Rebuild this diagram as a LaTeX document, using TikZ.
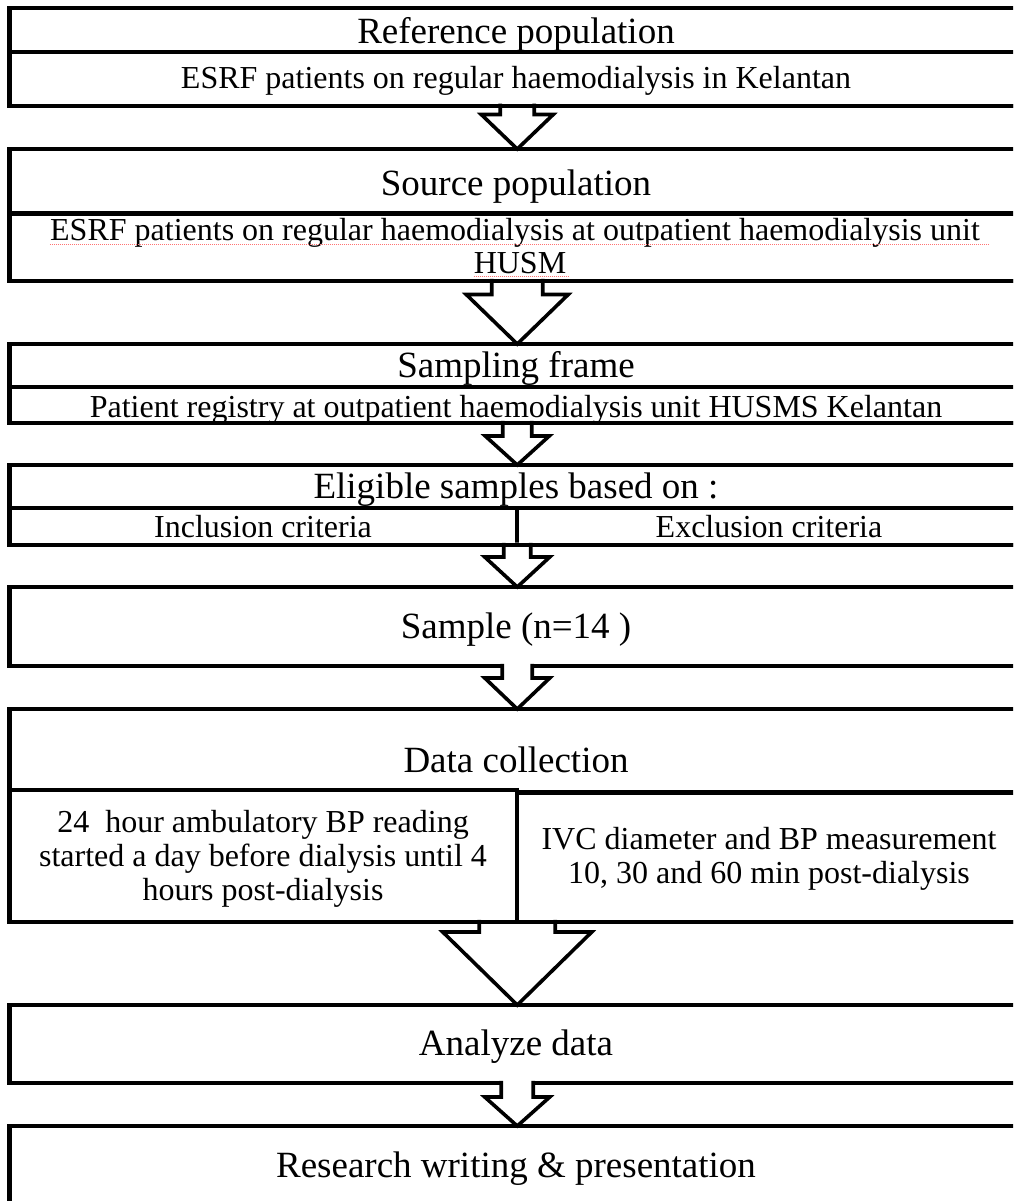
\documentclass[tikz,border=0pt]{standalone}
\usepackage{fontspec}
\setmainfont{Liberation Serif}
\usetikzlibrary{calc,fit}

\tikzset{
  box/.style={draw, line width=4.5pt, inner sep=0pt, outer sep=0pt},
  rule/.style={line width=4.5pt},
  hd/.style={inner sep=0pt, anchor=base, font=\fontsize{37}{40}\selectfont},
  sub/.style={inner sep=0pt, anchor=base, font=\fontsize{32}{35}\selectfont},
  arrowline/.style={draw, line width=3.6pt, line join=miter},
  spell/.style={draw=red!55, line width=1pt, densely dotted},
}

% Hollow block arrow hanging from the bottom of box #1 down to the top of box #2.
% #3 stem half width, #4 head half width, #5 stem length
\newcommand\blockarrow[5]{%
  \fill[white] ($(#1.south)+(-#3,-2.3)$) -- ($(#1.south)+(-#3,#5)$)
    -- ($(#1.south)+(-#4,#5)$) -- (#2.north) -- ($(#1.south)+(#4,#5)$)
    -- ($(#1.south)+(#3,#5)$) -- ($(#1.south)+(#3,-2.3)$) -- cycle;
  \draw[arrowline] ($(#1.south)+(-#3,-2.25)$) -- ($(#1.south)+(-#3,#5)$)
    -- ($(#1.south)+(-#4,#5)$) -- (#2.north) -- ($(#1.south)+(#4,#5)$)
    -- ($(#1.south)+(#3,#5)$) -- ($(#1.south)+(#3,-2.25)$);
}
% Same arrow, but with the bottom border of box #1 running unbroken over the stem
\newcommand\blockarrowclosed[5]{%
  \blockarrow{#1}{#2}{#3}{#4}{#5}
  \draw[rule] (#1.south west) -- (#1.south east);
}

\begin{document}
\begin{tikzpicture}[x=1pt, y=-1pt]
\useasboundingbox (0,0) rectangle (1013,1201);
\clip (0,0) rectangle (1013,1201);

% ---- boxes ----
\node[box, fit={(9.5,8) (1025,106)}]    (ref) {};
\node[box, fit={(9.5,149) (1025,281)}]  (src) {};
\node[box, fit={(9.5,344) (1025,423)}]  (frame) {};
\node[box, fit={(9.5,465) (1025,545)}]  (elig) {};
\node[box, fit={(9.5,587) (1025,666)}]  (sample) {};
\node[box, fit={(9.5,709) (1025,922)}]  (data) {};
\node[box, fit={(9.5,1005) (1025,1083)}] (anal) {};
\node[box, fit={(9.5,1126) (1025,1260)}] (res) {};

% inner dividers
\draw[rule] (9.5,52) -- (1025,52);
\draw[rule] (9.5,213.5) -- (1025,213.5);
\draw[rule] (9.5,387) -- (1025,387);
\draw[rule] (9.5,508) -- (1025,508);
\draw[rule] (517,508) -- (517,545);
\draw[rule] (9.5,790) -- (517,790);
\draw[rule] (517,792.5) -- (1025,792.5);
\draw[rule] (517,787.75) -- (517,923);

% ---- texts ----
\node[hd]  (refT)  at (516,44)  {Reference population};
\node[sub] (refS)  at (516,89)  {ESRF patients on regular haemodialysis in Kelantan};

\node[hd]  (srcT)  at (516,195) {Source population};
\node[sub] (srcS1) at (515,240) {ESRF patients on regular haemodialysis at outpatient haemodialysis unit};
\node[sub] (srcS2) at (520,273) {HUSM};
\draw[spell] ($(srcS1.base west)+(0,4)$) -- ($(srcS1.base east)+(9,4)$);
\draw[spell] ($(srcS2.base west)+(0,3)$) -- ($(srcS2.base east)+(2,3)$);

\node[hd]  (frmT)  at (516,377) {Sampling frame};
\node[sub] (frmS)  at (516,417) {Patient registry at outpatient haemodialysis unit HUSMS Kelantan};

\node[hd]  (eliT)  at (516,498) {Eligible samples based on :};
\node[sub] (eliA)  at (263,537) {Inclusion criteria};
\node[sub] (eliB)  at (769,537) {Exclusion criteria};

\node[hd]  (smpT)  at (516,638) {Sample (n=14 )};

\node[hd]  (datT)  at (516,772) {Data collection};
\node[sub] (datA1) at (263,832) {24\ \ hour ambulatory BP reading};
\node[sub] (datA2) at (263,866) {started a day before dialysis until 4};
\node[sub] (datA3) at (263,900) {hours post-dialysis};
\node[sub] (datB1) at (769,849) {IVC diameter and BP measurement};
\node[sub] (datB2) at (769,883) {10, 30 and 60 min post-dialysis};

\node[hd]  (anaT)  at (516,1055) {Analyze data};
\node[hd]  (resT)  at (516,1177) {Research writing \& presentation};

% ---- block arrows between the stages ----
\blockarrowclosed{ref}{src}{17}{36}{8.5}
\blockarrowclosed{src}{frame}{25.5}{51}{13.5}
\blockarrowclosed{frame}{elig}{14.5}{32}{13}
\blockarrowclosed{elig}{sample}{13.5}{32.5}{12}
\blockarrow{sample}{data}{15}{32.5}{12}
\blockarrowclosed{data}{anal}{38}{74.5}{10}
\draw[rule] (517,900) -- (517,923);
\blockarrow{anal}{res}{16}{32.5}{14}
\end{tikzpicture}
\end{document}
